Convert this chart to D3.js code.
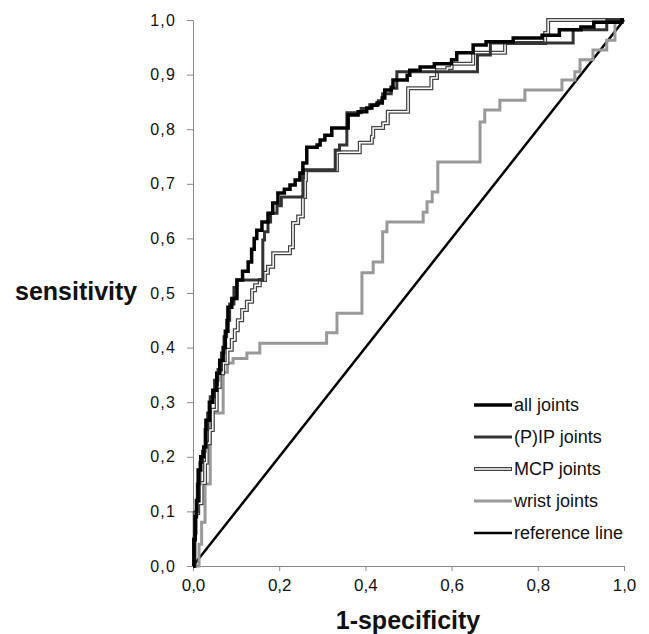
<!DOCTYPE html>
<html>
<head>
<meta charset="utf-8">
<script src="https://cdn.jsdelivr.net/npm/d3@7"></script>
<style>
  body { margin: 0; background: #fff; }
  text { font-family: "Liberation Sans", Arial, sans-serif; }
</style>
</head>
<body>
<div id="chart"></div>
<script>
// ROC points, [1-specificity, sensitivity] at top of each rise
const allJoints = [
  [0, 0], [0.002, 0.048], [0.005, 0.09], [0.008, 0.12], [0.012, 0.176], [0.018, 0.2],
  [0.025, 0.218], [0.03, 0.267], [0.038, 0.3], [0.046, 0.322], [0.055, 0.353], [0.062, 0.377],
  [0.07, 0.4], [0.075, 0.43], [0.081, 0.474], [0.09, 0.49], [0.102, 0.524], [0.115, 0.54],
  [0.128, 0.557], [0.136, 0.58], [0.142, 0.6], [0.148, 0.615], [0.16, 0.63], [0.174, 0.646],
  [0.185, 0.665], [0.197, 0.683], [0.212, 0.69], [0.225, 0.698], [0.237, 0.707], [0.248, 0.72],
  [0.255, 0.738], [0.264, 0.767], [0.288, 0.771], [0.295, 0.78], [0.306, 0.789], [0.322, 0.802],
  [0.36, 0.826], [0.383, 0.832], [0.403, 0.839], [0.415, 0.844], [0.427, 0.848], [0.439, 0.857],
  [0.445, 0.872], [0.46, 0.877], [0.464, 0.89], [0.497, 0.899], [0.503, 0.908], [0.527, 0.914],
  [0.56, 0.92], [0.6, 0.927], [0.612, 0.94], [0.65, 0.954], [0.68, 0.96], [0.743, 0.967],
  [0.81, 0.972], [0.85, 0.982], [0.9, 0.987], [0.93, 0.996], [0.995, 1], [1, 1]
];
const pipJoints = [
  [0, 0], [0.004, 0.06], [0.007, 0.1], [0.01, 0.15], [0.016, 0.19], [0.022, 0.21],
  [0.028, 0.25], [0.034, 0.28], [0.04, 0.31], [0.05, 0.34], [0.058, 0.36], [0.066, 0.39],
  [0.072, 0.42], [0.078, 0.45], [0.085, 0.48], [0.095, 0.51], [0.102, 0.524], [0.162, 0.597],
  [0.166, 0.612], [0.174, 0.63], [0.18, 0.646], [0.195, 0.66], [0.205, 0.676], [0.255, 0.725],
  [0.33, 0.762], [0.34, 0.771], [0.357, 0.83], [0.39, 0.838], [0.41, 0.845], [0.43, 0.852],
  [0.44, 0.865], [0.46, 0.875], [0.473, 0.905], [0.66, 0.936], [0.69, 0.958], [0.882, 0.982],
  [0.96, 1], [1, 1]
];
const mcpJoints = [
  [0, 0], [0.003, 0.05], [0.004, 0.097], [0.012, 0.115], [0.02, 0.152], [0.028, 0.189],
  [0.032, 0.225], [0.039, 0.249], [0.046, 0.286], [0.055, 0.328], [0.062, 0.353], [0.07, 0.372],
  [0.08, 0.396], [0.09, 0.414], [0.097, 0.432], [0.104, 0.45], [0.114, 0.469], [0.125, 0.484],
  [0.137, 0.505], [0.144, 0.514], [0.155, 0.524], [0.167, 0.537], [0.174, 0.548], [0.186, 0.573],
  [0.225, 0.584], [0.232, 0.628], [0.244, 0.64], [0.255, 0.676], [0.26, 0.707], [0.262, 0.725],
  [0.334, 0.758], [0.387, 0.775], [0.415, 0.786], [0.418, 0.802], [0.441, 0.811], [0.452, 0.832],
  [0.499, 0.875], [0.553, 0.894], [0.566, 0.908], [0.59, 0.912], [0.6, 0.92], [0.65, 0.94],
  [0.724, 0.958], [0.817, 0.976], [0.824, 1], [1, 1]
];
const wristJoints = [
  [0, 0], [0.014, 0.04], [0.02, 0.08], [0.028, 0.15], [0.04, 0.28], [0.07, 0.355],
  [0.08, 0.372], [0.093, 0.38], [0.125, 0.39], [0.155, 0.408], [0.31, 0.427], [0.334, 0.463],
  [0.392, 0.537], [0.418, 0.557], [0.44, 0.612], [0.45, 0.63], [0.534, 0.648], [0.543, 0.667],
  [0.555, 0.685], [0.568, 0.74], [0.666, 0.813], [0.677, 0.835], [0.712, 0.853], [0.77, 0.872],
  [0.856, 0.89], [0.886, 0.905], [0.898, 0.927], [0.928, 0.945], [0.96, 0.963], [0.979, 1], [1, 1]
];
const referenceLine = [[0, 0], [1, 1]];

const legendLabels = ["all joints", "(P)IP joints", "MCP joints", "wrist joints", "reference line"];
const xTicks = [0, 0.2, 0.4, 0.6, 0.8, 1.0];
const yTicks = [0, 0.1, 0.2, 0.3, 0.4, 0.5, 0.6, 0.7, 0.8, 0.9, 1.0];

const width = 649;
const height = 634;

const x = d3.scaleLinear().domain([0, 1]).range([193, 624]);
const y = d3.scaleLinear().domain([0, 1]).range([566, 20]);

const commaFmt = (d) => d3.format(".1f")(d).replace(".", ",");

const svg = d3
  .select("#chart")
  .append("svg")
  .attr("width", width)
  .attr("height", height);

svg.append("rect").attr("width", width).attr("height", height).attr("fill", "#fff");

// axes
const yAxis = svg
  .append("g")
  .attr("transform", `translate(${x(0)},0)`)
  .call(d3.axisLeft(y).tickValues(yTicks).tickFormat(commaFmt).tickSize(6).tickSizeOuter(0));
yAxis.select(".domain").attr("stroke", "#888");
yAxis.selectAll(".tick line").attr("stroke", "#888");
yAxis
  .selectAll(".tick text")
  .attr("x", -17)
  .attr("font-size", 16)
  .attr("letter-spacing", 1.2)
  .attr("font-family", "Liberation Sans, Arial, sans-serif")
  .attr("fill", "#111");

const xAxis = svg
  .append("g")
  .attr("transform", `translate(0,${y(0)})`)
  .call(d3.axisBottom(x).tickValues(xTicks).tickFormat(commaFmt).tickSize(5).tickSizeOuter(0));
xAxis.select(".domain").attr("stroke", "#888");
xAxis.selectAll(".tick line").attr("stroke", "#888");
xAxis
  .selectAll(".tick text")
  .attr("y", 13)
  .attr("font-size", 17)
  .attr("font-family", "Open Sans, sans-serif")
  .attr("fill", "#111");

svg
  .append("text")
  .attr("x", 15)
  .attr("y", 300)
  .attr("font-size", 25)
  .attr("font-weight", "bold")
  .attr("fill", "#111")
  .text("sensitivity");

svg
  .append("text")
  .attr("x", 408)
  .attr("y", 629)
  .attr("text-anchor", "middle")
  .attr("font-size", 25)
  .attr("font-weight", "bold")
  .attr("fill", "#111")
  .text("1-specificity");

// curves
const stepLine = d3
  .line()
  .x((d) => x(d[0]))
  .y((d) => y(d[1]))
  .curve(d3.curveStepAfter);

const plot = svg.append("g").attr("fill", "none").attr("stroke-linejoin", "miter");

plot.append("path").attr("d", d3.line().x((d) => x(d[0])).y((d) => y(d[1]))(referenceLine))
  .attr("stroke", "#000").attr("stroke-width", 2.5);

plot.append("path").attr("d", stepLine(wristJoints)).attr("stroke", "#999").attr("stroke-width", 3);

plot.append("path").attr("d", stepLine(mcpJoints)).attr("stroke", "#444").attr("stroke-width", 4);
plot.append("path").attr("d", stepLine(mcpJoints)).attr("stroke", "#fff").attr("stroke-width", 1.5);

plot.append("path").attr("d", stepLine(pipJoints)).attr("stroke", "#333").attr("stroke-width", 3);

plot.append("path").attr("d", stepLine(allJoints)).attr("stroke", "#000").attr("stroke-width", 3.5);

// legend
const legendStyles = [
  { stroke: "#000", w: 3.5 },
  { stroke: "#333", w: 3 },
  { stroke: "#444", w: 4, inner: true },
  { stroke: "#999", w: 3 },
  { stroke: "#000", w: 2.5 },
];

const legend = svg
  .append("g")
  .selectAll("g")
  .data(legendLabels)
  .enter()
  .append("g")
  .attr("transform", (d, i) => `translate(474,${405 + i * 32})`);

legend
  .append("line")
  .attr("x1", 0)
  .attr("x2", 38)
  .attr("stroke", (d, i) => legendStyles[i].stroke)
  .attr("stroke-width", (d, i) => legendStyles[i].w);

legend
  .filter((d, i) => legendStyles[i].inner)
  .append("line")
  .attr("x1", 1)
  .attr("x2", 37)
  .attr("stroke", "#fff")
  .attr("stroke-width", 1.5);

legend
  .append("text")
  .attr("x", 40)
  .attr("y", 6)
  .attr("font-size", 18)
  .attr("fill", "#111")
  .text((d) => d);
</script>
</body>
</html>
